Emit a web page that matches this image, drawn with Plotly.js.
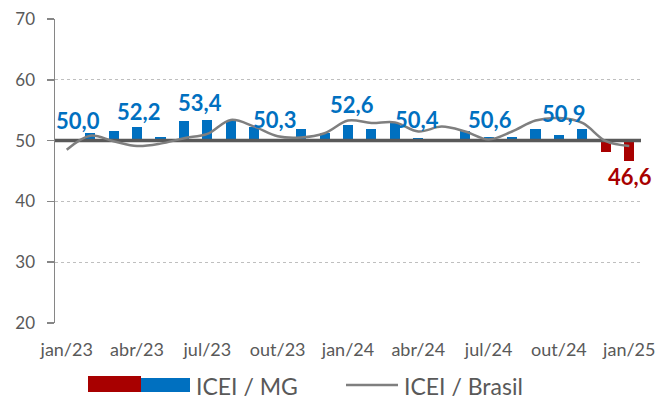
<!DOCTYPE html>
<html>
<head>
<meta charset="utf-8">
<script src="https://cdn.plot.ly/plotly-3.0.1.min.js"></script>
<style>
  html, body { margin: 0; padding: 0; background: #ffffff; }
  #chart { width: 671px; height: 401px; }
</style>
</head>
<body>
<div id="chart"></div>
<script>
// ---- data ----
const months = ['jan/23','fev/23','mar/23','abr/23','mai/23','jun/23','jul/23','ago/23','set/23','out/23','nov/23','dez/23',
                'jan/24','fev/24','mar/24','abr/24','mai/24','jun/24','jul/24','ago/24','set/24','out/24','nov/24','dez/24','jan/25'];
const iceiMG = [50.0, 51.2, 51.6, 52.2, 50.6, 53.3, 53.4, 53.2, 52.3, 50.3, 51.9, 51.3,
                52.6, 51.9, 52.9, 50.4, 50.2, 51.5, 50.6, 50.6, 51.9, 50.9, 51.9, 48.1, 46.6];
const iceiBrasil = [48.5, 50.8, 49.9, 49.1, 49.5, 50.4, 51.1, 53.4, 52.3, 50.7, 50.5, 51.2,
                    53.3, 52.9, 53.0, 51.5, 52.3, 51.5, 50.2, 51.5, 53.3, 53.7, 52.9, 49.9, 49.1];
const BASELINE = 50;
const labelIdx = [0, 3, 6, 9, 12, 15, 18, 21, 24];
const seriesNames = ['ICEI / MG', 'ICEI / Brasil'];

// ---- styles / positions ----
const BLUE = '#0070C0', RED = '#A80000', GRAY_LINE = '#7F7F7F', BASE_LINE = '#595959', TXT = '#595959';
const FONT = 'Lato, "Open Sans", sans-serif';
const W = 671, H = 401;
const M = {l: 55, r: 30, t: 19, b: 78};
// manual label nudges [xshift, yshift] in px (as positioned in the reference)
const nudge = {0: [11.5, 20], 3: [1, 16], 6: [-7, 17], 9: [-3, 19], 12: [3.5, 20], 15: [-1.5, 18.5], 18: [1, 17.5], 21: [4.5, 21.5], 24: [0.5, -15]};

const idx = months.map((_, i) => i);
const px2x = px => (px - M.l) / (W - M.l - M.r);
const py2y = py => (H - M.b - py) / (H - M.t - M.b);

const bars = {
  type: 'bar',
  x: idx,
  y: iceiMG.map(v => v - BASELINE),
  base: iceiMG.map(() => BASELINE),
  width: 0.43,
  marker: {color: iceiMG.map(v => v >= BASELINE ? BLUE : RED)},
  name: seriesNames[0],
  showlegend: false,
  hoverinfo: 'skip'
};
const baseLine = {
  type: 'scatter', mode: 'lines',
  x: [-0.5, months.length - 0.5],
  y: [BASELINE, BASELINE],
  line: {color: BASE_LINE, width: 3.5},
  showlegend: false, hoverinfo: 'skip'
};
const brasil = {
  type: 'scatter', mode: 'lines',
  x: idx, y: iceiBrasil,
  line: {color: GRAY_LINE, width: 2.5, shape: 'spline', smoothing: 1},
  name: seriesNames[1], showlegend: false, hoverinfo: 'skip'
};

const fmt = v => v.toFixed(1).replace('.', ',');
const annotations = labelIdx.map(i => ({
  x: i, y: iceiMG[i], xref: 'x', yref: 'y',
  text: fmt(iceiMG[i]), showarrow: false,
  xanchor: 'center', yanchor: 'middle',
  xshift: nudge[i][0], yshift: nudge[i][1],
  font: {family: FONT, size: 22, color: iceiMG[i] >= BASELINE ? BLUE : RED, weight: 'bold'}
}));

// custom legend
const shapes = [
  {type: 'rect', xref: 'paper', yref: 'paper', x0: px2x(88), x1: px2x(141), y0: py2y(392), y1: py2y(376), fillcolor: RED, line: {width: 0}},
  {type: 'rect', xref: 'paper', yref: 'paper', x0: px2x(141), x1: px2x(190), y0: py2y(392), y1: py2y(378), fillcolor: BLUE, line: {width: 0}},
  {type: 'line', xref: 'paper', yref: 'paper', x0: px2x(346), x1: px2x(398), y0: py2y(385), y1: py2y(385), line: {color: GRAY_LINE, width: 2.5}}
];
annotations.push(
  {xref: 'paper', yref: 'paper', x: px2x(194), y: py2y(386), xanchor: 'left', yanchor: 'middle', showarrow: false,
   text: seriesNames[0], font: {family: FONT, size: 23, color: TXT}},
  {xref: 'paper', yref: 'paper', x: px2x(402), y: py2y(386), xanchor: 'left', yanchor: 'middle', showarrow: false,
   text: seriesNames[1], font: {family: FONT, size: 23, color: TXT}}
);

const layout = {
  width: W, height: H,
  margin: M,
  paper_bgcolor: '#ffffff', plot_bgcolor: '#ffffff',
  showlegend: false,
  font: {family: FONT, color: TXT},
  xaxis: {
    type: 'linear', range: [-0.5, months.length - 0.5],
    tickvals: labelIdx, ticktext: labelIdx.map(i => months[i]),
    showgrid: false, zeroline: false, showline: false, ticks: '',
    tickfont: {family: FONT, size: 18, color: TXT},
    ticklabelstandoff: 14
  },
  yaxis: {
    range: [20, 70], dtick: 10, tick0: 20,
    showline: true, linecolor: '#868686', linewidth: 1.5,
    ticks: 'outside', ticklen: 7, tickcolor: '#868686', tickwidth: 1.5,
    showgrid: true, gridcolor: '#BFBFBF', griddash: 'dot', gridwidth: 1,
    zeroline: false,
    tickfont: {family: FONT, size: 17, color: TXT},
    ticklabelstandoff: 8
  },
  bargap: 0,
  annotations: annotations,
  shapes: shapes
};

Plotly.newPlot('chart', [bars, baseLine, brasil], layout, {staticPlot: true, displayModeBar: false});
</script>
</body>
</html>
